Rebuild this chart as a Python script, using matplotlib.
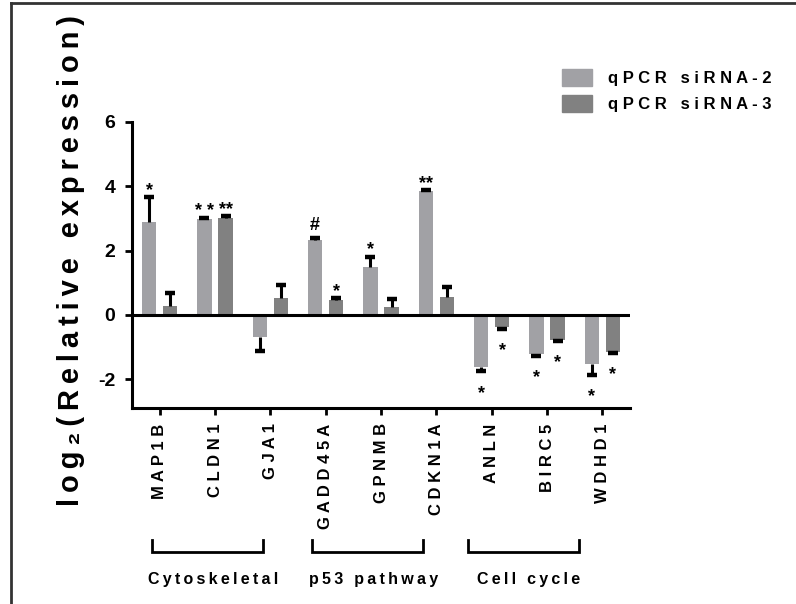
import matplotlib
matplotlib.use("Agg")
import matplotlib.pyplot as plt
import numpy as np
from matplotlib.patches import Patch
from matplotlib.lines import Line2D
from matplotlib.transforms import blended_transform_factory

plt.rcParams['font.family'] = ['Liberation Sans', 'DejaVu Sans']
plt.rcParams['font.weight'] = 'bold'

# data
genes = ['MAP1B', 'CLDN1', 'GJA1', 'GADD45A', 'GPNMB', 'CDKN1A', 'ANLN', 'BIRC5', 'WDHD1']
sirna2 = [2.89, 2.98, -0.70, 2.33, 1.49, 3.84, -1.63, -1.23, -1.53]
sirna2_err = [0.77, 0.04, 0.44, 0.05, 0.32, 0.04, 0.13, 0.04, 0.33]
sirna3 = [0.28, 3.01, 0.53, 0.46, 0.25, 0.56, -0.39, -0.78, -1.15]
sirna3_err = [0.41, 0.05, 0.40, 0.06, 0.25, 0.32, 0.05, 0.04, 0.03]
sig2 = ['*', '* *', '', '#', '*', '**', '*', '*', '*']
sig3 = ['', '**', '', '*', '', '', '*', '*', '*']
groups = ['Cytoskeletal', 'p53 pathway', 'Cell cycle']
group_span = [(-0.13, 1.87), (2.76, 4.76), (5.57, 7.57)]
series = ['qPCR siRNA-2', 'qPCR siRNA-3']

c2 = '#a1a1a5'
c3 = '#818181'


def spaced(s, gap=' '):
    # imitate the letter tracking of the original
    return gap.join(s)


fig = plt.figure(figsize=(7.96, 6.04), dpi=100)
ax = fig.add_axes([132 / 796, 1 - 408 / 604, 498 / 796, 286 / 604])

x = np.arange(len(genes))
w = 0.26
off = 0.19


def draw(xs, vals, errs, color, sigs):
    ax.bar(xs, vals, w, color=color, zorder=2)
    for xi, v, e, s in zip(xs, vals, errs, sigs):
        tip = v + e if v >= 0 else v - e
        # one-sided error bar, cap only at the tip
        ax.plot([xi, xi], [v, tip], color='black', lw=2.2, zorder=3,
                solid_capstyle='butt')
        ax.plot(xi, tip, marker='_', ms=7, mew=3.2, color='black', zorder=3)
        if not s:
            continue
        if s == '#':
            dy = 6
        elif v >= 0:
            dy = 1.5
        else:
            dy = -19
        ax.annotate(s, (xi, tip), xytext=(0, dy), textcoords='offset points',
                    ha='center', va='baseline', fontsize=13)


draw(x - off, sirna2, sirna2_err, c2, sig2)
draw(x + off, sirna3, sirna3_err, c3, sig3)

ax.axhline(0, color='black', lw=2.2, zorder=4)
ax.set_xlim(-0.5, len(genes) - 0.5)
ax.set_ylim(-2.9, 6)
ax.set_yticks([-2, 0, 2, 4, 6])
ax.set_yticklabels(['-2', '0', '2', '4', '6'], fontsize=14, fontweight='bold')
ax.set_xticks(x)
ax.set_xticklabels([spaced(g) for g in genes], rotation=90, fontsize=12,
                   fontweight='bold', va='top', ha='center')
ax.tick_params(axis='both', width=2, length=5)
ax.tick_params(axis='x', pad=6)
ax.tick_params(axis='y', pad=7)
for side in ['top', 'right']:
    ax.spines[side].set_visible(False)
for side in ['left', 'bottom']:
    ax.spines[side].set_linewidth(2.2)

# gene group brackets
tr = blended_transform_factory(ax.transData, ax.transAxes)
for name, (a, b) in zip(groups, group_span):
    ax.plot([a, a, b, b], [-0.4615, -0.5035, -0.5035, -0.4615], color='black',
            lw=2, transform=tr, clip_on=False, solid_joinstyle='miter')
    ax.text((a + b) / 2 + 0.1, -0.598, spaced(name, '\u2009'), transform=tr,
            ha='center', va='center', fontsize=11.5, fontweight='bold')

fig.text(71 / 796, 1 - 261 / 604, spaced('log\u2082(Relative expression)', '\u2009'),
         rotation=90, ha='center', va='center', fontsize=21, fontweight='bold')

handles = [Patch(color=c2), Patch(color=c3)]
fig.legend(handles, [spaced(s) for s in series], loc='upper left',
           bbox_to_anchor=(562 / 796, 1 - 69 / 604), frameon=False,
           prop={'size': 12, 'weight': 'bold'}, handlelength=1.8,
           handleheight=1.15, handletextpad=0.95, labelspacing=0.55,
           borderpad=0, borderaxespad=0)

# frame lines of the original panel
fig.add_artist(Line2D([11 / 796, 11 / 796], [0, 1 - 3 / 604], color='#333333', lw=2))
fig.add_artist(Line2D([11 / 796, 1], [1 - 3 / 604, 1 - 3 / 604], color='#333333', lw=2))

fig.savefig('out.png', dpi=100)
